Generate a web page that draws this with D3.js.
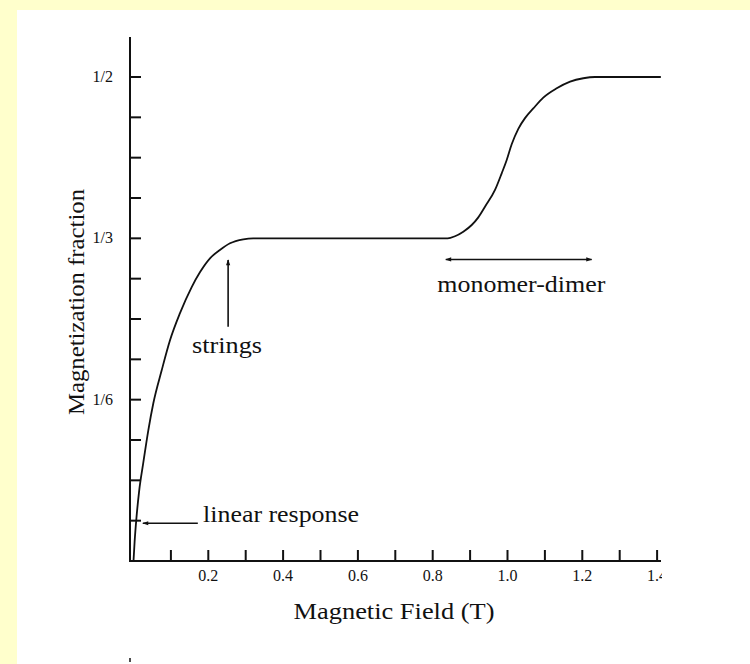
<!DOCTYPE html>
<html>
<head>
<meta charset="utf-8">
<script src="https://cdn.jsdelivr.net/npm/d3@7"></script>
<style>
  body { margin: 0; background: #ffffcc; }
  svg { display: block; }
  text { font-family: 'Liberation Serif', 'Times New Roman', serif; fill: #111; }
</style>
</head>
<body>
<div id="root"></div>
<script>
// magnetization curve
let fieldT = [0, 0.003, 0.008, 0.015, 0.026, 0.0396, 0.053, 0.0754, 0.0976, 0.1243, 0.1556, 0.178, 0.2045, 0.231, 0.258, 0.2936, 0.32, 0.35,
              0.84, 0.8596, 0.8818, 0.9043, 0.9219, 0.9398, 0.9666, 0.9845, 0.9979, 1.0112, 1.0289, 1.0468, 1.069, 1.0957, 1.1316, 1.1674, 1.2027, 1.234, 1.41]
let magFrac = [0, 0.02, 0.045, 0.072, 0.101, 0.135, 0.163, 0.197, 0.228, 0.256, 0.283, 0.2985, 0.3127, 0.3213, 0.3282, 0.3323, 0.3333, 0.3333,
               0.3333, 0.3355, 0.3402, 0.3471, 0.355, 0.366, 0.3833, 0.4005, 0.4143, 0.4305, 0.4465, 0.4575, 0.4675, 0.4787, 0.4883, 0.4952, 0.4987, 0.5, 0.5]

let xTicks = d3.range(1, 15).map(d => d / 10)
let xLabels = ['0.2', '0.4', '0.6', '0.8', '1.0', '1.2', '1.4']
let yTicks = d3.range(1, 13).map(d => d / 24)
let yLabels = [{v: 1/6, t: '1/6'}, {v: 1/3, t: '1/3'}, {v: 1/2, t: '1/2'}]

// annotations, in data units
let notes = [
  {text: 'strings', x: 0.25, y: 0.215, len: 70},
  {text: 'monomer-dimer', x: 1.037, y: 0.278, len: 168},
  {text: 'linear response', x: 0.186, y: 0.040, len: 156}
]
let arrows = [
  {x1: 0.253, y1: 0.242, x2: 0.253, y2: 0.311, start: false},
  {x1: 0.172, y1: 0.039, x2: 0.025, y2: 0.039, start: false},
  {x1: 0.835, y1: 0.3115, x2: 1.225, y2: 0.3115, start: true}
]

let W = 750, H = 664
document.getElementById('root').innerHTML += `<svg width=${W} height=${H}></svg>`
let svg = d3.select('svg')

svg.append('rect').attr('x', 17).attr('y', 10)
   .attr('width', W - 17).attr('height', H - 10).attr('fill', '#fff')

let x = d3.scaleLinear().domain([0, 1.4]).range([133.5, 657.1])
let y = d3.scaleLinear().domain([0, 0.5]).range([561, 77])

let defs = svg.append('defs')
defs.append('marker').attr('id', 'head')
    .attr('viewBox', '0 0 10 10').attr('refX', 9).attr('refY', 5)
    .attr('markerWidth', 9).attr('markerHeight', 6).attr('markerUnits', 'userSpaceOnUse')
    .attr('orient', 'auto-start-reverse')
    .append('path').attr('d', 'M0,1.5 L10,5 L0,8.5 Z').attr('fill', '#111')
defs.append('clipPath').attr('id', 'clipR')
    .append('rect').attr('x', 0).attr('y', 0).attr('width', 662).attr('height', H)

// axes lines
let axisG = svg.append('g').attr('stroke', '#111').attr('stroke-width', 2).attr('fill', 'none')
axisG.append('line').attr('x1', 130).attr('x2', 130).attr('y1', 37).attr('y2', y(0) + 1)
axisG.append('line').attr('x1', 129).attr('x2', 661).attr('y1', y(0)).attr('y2', y(0))

axisG.selectAll('.yt').data(yTicks).enter().append('line')
     .attr('x1', 130).attr('x2', 141)
     .attr('y1', d => y(d)).attr('y2', d => y(d))
axisG.selectAll('.xt').data(xTicks).enter().append('line')
     .attr('x1', d => x(d)).attr('x2', d => x(d))
     .attr('y1', y(0)).attr('y2', y(0) - 11)

svg.selectAll('.yl').data(yLabels).enter().append('text')
   .attr('x', 113).attr('y', d => y(d.v) + 5)
   .attr('text-anchor', 'end').attr('font-size', 16)
   .text(d => d.t)

svg.append('g').attr('clip-path', 'url(#clipR)')
   .selectAll('text').data(xLabels).enter().append('text')
   .attr('x', d => x(+d)).attr('y', 581)
   .attr('text-anchor', 'middle').attr('font-size', 16)
   .text(d => d)

svg.append('text').attr('x', 394).attr('y', 619)
   .attr('text-anchor', 'middle').attr('font-size', 24)
   .attr('textLength', 201).attr('lengthAdjust', 'spacingAndGlyphs')
   .text('Magnetic Field (T)')

svg.append('text').attr('transform', 'translate(84,302) rotate(-90)')
   .attr('text-anchor', 'middle').attr('font-size', 24)
   .attr('textLength', 226).attr('lengthAdjust', 'spacingAndGlyphs')
   .text('Magnetization fraction')

// curve
let line = d3.line().x(d => x(d[0])).y(d => y(d[1])).curve(d3.curveMonotoneX)
svg.append('path').datum(d3.zip(fieldT, magFrac))
   .attr('d', line).attr('fill', 'none').attr('stroke', '#111').attr('stroke-width', 1.8)

// annotations
svg.selectAll('.arr').data(arrows).enter().append('line')
   .attr('x1', d => x(d.x1)).attr('y1', d => y(d.y1))
   .attr('x2', d => x(d.x2)).attr('y2', d => y(d.y2))
   .attr('stroke', '#111').attr('stroke-width', 1.6)
   .attr('marker-end', 'url(#head)')
   .attr('marker-start', d => d.start ? 'url(#head)' : null)

svg.selectAll('.note').data(notes).enter().append('text')
   .attr('x', d => x(d.x)).attr('y', d => y(d.y))
   .attr('text-anchor', d => d.text == 'linear response' ? 'start' : 'middle')
   .attr('font-size', 24)
   .attr('textLength', d => d.len).attr('lengthAdjust', 'spacingAndGlyphs')
   .text(d => d.text)

svg.append('line').attr('x1', 130).attr('x2', 130).attr('y1', 658).attr('y2', 662)
   .attr('stroke', '#111').attr('stroke-width', 1.5)
</script>
</body>
</html>
